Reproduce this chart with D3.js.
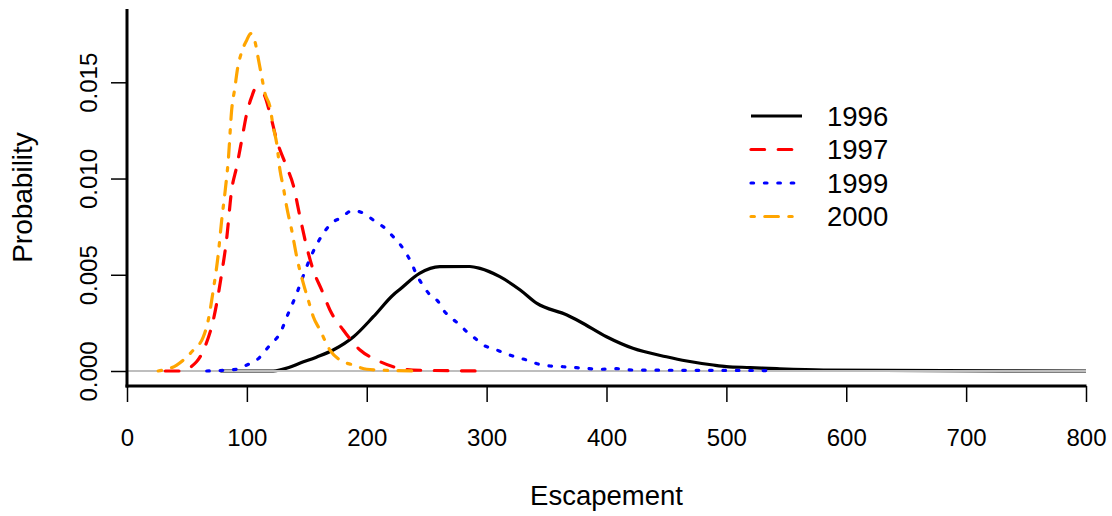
<!DOCTYPE html>
<html>
<head>
<meta charset="utf-8">
<script src="https://cdn.jsdelivr.net/npm/d3@7"></script>
<style>
  html, body { margin: 0; padding: 0; background: #fff; }
  svg { display: block; font-family: "Liberation Sans", Arial, Helvetica, sans-serif; }
</style>
</head>
<body>
<svg id="chart" width="1112" height="516"></svg>
<script>
// ---- Data ----
const years = ["1996", "1997", "1999", "2000"];

const esc1996  = [78, 122, 135, 144, 158, 172, 189, 205.5, 222, 228, 244, 261, 286, 294.5, 311, 328, 342, 367, 378, 400, 422, 450, 467, 489, 500, 520, 542, 581, 800];
const prob1996 = [0, 0, 0.00018, 0.00040, 0.00072, 0.00109, 0.00178, 0.00282, 0.00395, 0.00426, 0.00507, 0.00542, 0.00543, 0.00533, 0.00490, 0.00421, 0.00351, 0.00291, 0.00256, 0.00178, 0.00118, 0.00074, 0.00052, 0.00031, 0.00023, 0.00018, 0.00012, 0.00005, 0];

const esc1997  = [32, 44, 58, 65, 72, 79, 83, 87.3, 91.5, 95.7, 99.9, 104, 106.8, 113.7, 119.3, 124.9, 133.2, 138.7, 144.3, 149.9, 155.4, 162.4, 169.3, 180.4, 194.4, 208.3, 222.1, 238.6, 297];
const prob1997 = [0, 0, 0.00048, 0.00126, 0.00265, 0.00507, 0.00680, 0.00940, 0.01061, 0.01199, 0.01338, 0.01424, 0.01463, 0.01442, 0.01338, 0.01199, 0.01061, 0.00966, 0.00801, 0.00645, 0.00524, 0.00421, 0.00317, 0.00213, 0.00109, 0.00057, 0.00022, 0.00005, 0];

const esc1999  = [66.5, 91.5, 99.9, 108.2, 119.3, 127.6, 134.6, 141.6, 145.7, 152.7, 163.8, 172.1, 177.7, 188.1, 197.1, 205.5, 213.8, 220.8, 227.7, 233.3, 237.5, 241.7, 245.8, 252.8, 259.7, 263.9, 270.9, 277.8, 283.4, 290.3, 297.2, 307, 315.3, 325.1, 333.4, 343.1, 352.9, 364, 377.9, 394.6, 408.5, 422.4, 536, 539];
const prob1999 = [0, 0.00009, 0.00031, 0.00057, 0.00135, 0.00196, 0.00300, 0.00403, 0.00472, 0.00585, 0.00715, 0.00775, 0.00793, 0.00833, 0.00820, 0.00784, 0.00749, 0.00706, 0.00659, 0.00607, 0.00559, 0.00498, 0.00455, 0.00395, 0.00360, 0.00317, 0.00274, 0.00239, 0.00204, 0.00170, 0.00135, 0.00113, 0.00092, 0.00071, 0.00057, 0.00036, 0.00026, 0.00022, 0.00016, 0.00009, 0.00012, 0.00005, 0.00002, 0];

const esc2000  = [26, 41.5, 55.3, 63.7, 67.8, 72, 76.2, 79, 81.8, 84.5, 87.3, 90.1, 92, 95.7, 99.9, 103.2, 106.8, 109.5, 112.4, 115.1, 119.3, 122, 124.9, 127.6, 130.4, 133.2, 137.4, 141.6, 147.1, 151.2, 155.4, 161, 169.3, 177.7, 188.8, 200, 211.1, 244];
const prob2000 = [0, 0.00031, 0.00109, 0.00178, 0.00265, 0.00421, 0.00611, 0.00784, 0.00931, 0.01096, 0.01355, 0.01476, 0.01563, 0.01658, 0.01719, 0.01753, 0.01710, 0.01624, 0.01528, 0.01442, 0.01372, 0.01268, 0.01182, 0.01044, 0.00955, 0.00853, 0.00732, 0.00593, 0.00455, 0.00369, 0.00282, 0.00213, 0.00109, 0.00057, 0.00031, 0.00009, 0.00005, 0];

const xTicks = [0, 100, 200, 300, 400, 500, 600, 700, 800];
const yTicks = [0, 0.005, 0.010, 0.015];
const yTickLabels = ["0.000", "0.005", "0.010", "0.015"];
const xTitle = "Escapement";
const yTitle = "Probability";

// ---- Layout ----
const svg = d3.select("#chart");
const x = d3.scaleLinear().domain([0, 800]).range([127, 1086]);
const y = d3.scaleLinear().domain([0, 0.015]).range([371, 82.3]);
const axisY = 386;   // position of the bottom axis line
const axisTop = 9;   // top of the left axis line

const styles = [
  { color: "#000000", dash: null },
  { color: "#ff0000", dash: "13.6,13.6" },
  { color: "#0000ff", dash: "2.6,10.8" },
  { color: "#ffa500", dash: "3.4,10.4,13.6,10.4" }
];
const series = [
  { name: years[0], xs: esc1996, ys: prob1996 },
  { name: years[1], xs: esc1997, ys: prob1997 },
  { name: years[2], xs: esc1999, ys: prob1999 },
  { name: years[3], xs: esc2000, ys: prob2000 }
];

const line = d3.line()
  .x(d => x(d[0]))
  .y(d => y(d[1]))
  .curve(d3.curveMonotoneX);

function drawSeries(i) {
  const s = series[i];
  const pts = s.xs.map((v, k) => [v, s.ys[k]]);
  svg.append("path")
    .attr("d", line(pts))
    .attr("fill", "none")
    .attr("stroke", styles[i].color)
    .attr("stroke-width", 3.2)
    .attr("stroke-linecap", styles[i].dash ? "round" : "butt")
    .attr("stroke-linejoin", "round")
    .attr("stroke-dasharray", styles[i].dash);
}

// curves (black first, then zero line, then the others)
drawSeries(0);
svg.append("line")
  .attr("x1", x(0)).attr("x2", x(800))
  .attr("y1", y(0)).attr("y2", y(0))
  .attr("stroke", "#bebebe").attr("stroke-width", 2);
drawSeries(1);
drawSeries(2);
drawSeries(3);

// ---- Axes ----
const xAxis = d3.axisBottom(x).tickValues(xTicks).tickFormat(d3.format("d"))
  .tickSize(16).tickSizeOuter(0).tickPadding(27);
const gx = svg.append("g").attr("transform", `translate(0,${axisY})`).call(xAxis);
gx.select(".domain").remove();
gx.selectAll(".tick line").attr("stroke", "#000").attr("stroke-width", 1.5);
gx.selectAll(".tick text").attr("fill", "#000").attr("font-size", 24)
  .attr("font-family", "Liberation Sans, Arial, sans-serif");

const yAxis = d3.axisLeft(y).tickValues(yTicks).tickFormat((d, i) => yTickLabels[i])
  .tickSize(16).tickSizeOuter(0).tickPadding(0);
const gy = svg.append("g").attr("transform", `translate(${x(0)},0)`).call(yAxis);
gy.select(".domain").remove();
gy.selectAll(".tick line").attr("stroke", "#000").attr("stroke-width", 1.5);
gy.selectAll(".tick text")
  .attr("fill", "#000").attr("font-size", 24)
  .attr("font-family", "Liberation Sans, Arial, sans-serif")
  .attr("text-anchor", "middle")
  .attr("x", null).attr("dy", null)
  .attr("transform", "translate(-30.5,0) rotate(-90)")
  .attr("dominant-baseline", "auto")
  .attr("y", 0);

// thick axis lines
svg.append("line")
  .attr("x1", x(0)).attr("x2", x(0))
  .attr("y1", axisTop).attr("y2", axisY + 1.5)
  .attr("stroke", "#000").attr("stroke-width", 3);
svg.append("line")
  .attr("x1", x(0) - 1.5).attr("x2", x(800) + 0.5)
  .attr("y1", axisY).attr("y2", axisY)
  .attr("stroke", "#000").attr("stroke-width", 3);

// ---- Titles ----
svg.append("text")
  .attr("x", (x(0) + x(800)) / 2).attr("y", 505)
  .attr("text-anchor", "middle").attr("font-size", 27.5)
  .text(xTitle);
svg.append("text")
  .attr("transform", `translate(32,${(axisTop + axisY) / 2}) rotate(-90)`)
  .attr("text-anchor", "middle").attr("font-size", 28)
  .text(yTitle);

// ---- Legend ----
const legendRows = [116, 149.5, 183, 216.5];
series.forEach((s, i) => {
  svg.append("line")
    .attr("x1", 751).attr("x2", 802)
    .attr("y1", legendRows[i]).attr("y2", legendRows[i])
    .attr("stroke", styles[i].color).attr("stroke-width", 3.2)
    .attr("stroke-linecap", styles[i].dash ? "round" : "butt")
    .attr("stroke-dasharray", styles[i].dash);
  svg.append("text")
    .attr("x", 827).attr("y", legendRows[i] + 9.5)
    .attr("font-size", 27.5)
    .text(s.name);
});
</script>
</body>
</html>
